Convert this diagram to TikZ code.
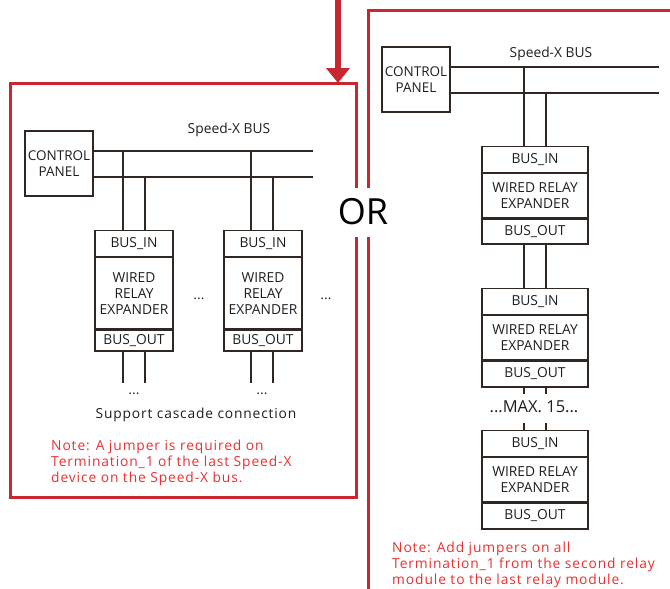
\documentclass[tikz,border=0pt]{standalone}
\usepackage{fontspec}
\setmainfont{Open Sans}
\usetikzlibrary{arrows.meta,positioning}
\definecolor{frred}{RGB}{200,38,48}
\definecolor{notered}{RGB}{232,48,48}
\definecolor{wire}{RGB}{48,38,34}
\definecolor{ink}{RGB}{30,30,30}

\begin{document}
\begin{tikzpicture}[x=1pt, y=-1pt,
  panel/.style={rectangle, draw=wire, line width=1.2pt, minimum width=68pt, minimum height=65pt,
                inner sep=0pt, align=center, text=ink, font=\fontsize{13.5}{16}\selectfont},
  port/.style={rectangle, draw=wire, line width=1.2pt, inner sep=0pt, align=center,
               text=ink, font=\fontsize{13.8}{16}\selectfont},
  lmod/.style={port, minimum width=78pt},
  rmod/.style={port, minimum width=106pt},
  bus/.style={draw=wire, line width=1.2pt},
  frame/.style={draw=frred, line width=3pt},
  lbl/.style={inner sep=0pt, text=ink, font=\fontsize{13.8}{16}\selectfont},
  note/.style={inner sep=0pt, align=left, text=notered,
               font=\fontsize{13.8}{16}\selectfont\addfontfeatures{LetterSpace=6.5}}]
\useasboundingbox (0,0) rectangle (670,589);

% left: star connection
\node[panel] (cp1) at (59,163.5) {CONTROL\\PANEL};
\node[lbl] (bus1) at (229,130) {Speed-X BUS};
\coordinate (t1) at (123,151);
\coordinate (t2) at (145,177);
\coordinate (t3) at (251,151);
\coordinate (t4) at (273,177);
\coordinate (bend1) at (313,151);
\coordinate (bend2) at (313,177);
\draw[bus] (cp1.east |- bend1) -- (bend1);
\draw[bus] (cp1.east |- bend2) -- (bend2);

\node[lmod, minimum height=26pt, anchor=north] (in1) at (134,230) {BUS\_IN};
\node[lmod, minimum height=71pt, below=0pt of in1] (rel1) {WIRED\\RELAY\\EXPANDER};
\node[lmod, minimum height=21pt, below=0pt of rel1] (out1) {BUS\_OUT};
\node[lmod, minimum height=26pt, anchor=north] (in2) at (263,230) {BUS\_IN};
\node[lmod, minimum height=71pt, below=0pt of in2] (rel2) {WIRED\\RELAY\\EXPANDER};
\node[lmod, minimum height=21pt, below=0pt of rel2] (out2) {BUS\_OUT};

\draw[bus] (t1) -- (t1 |- in1.north);
\draw[bus] (t2) -- (t2 |- in1.north);
\draw[bus] (t3) -- (t3 |- in2.north);
\draw[bus] (t4) -- (t4 |- in2.north);
\draw[bus] (t1 |- out1.south) -- ++(0,31);
\draw[bus] (t2 |- out1.south) -- ++(0,31);
\draw[bus] (t3 |- out2.south) -- ++(0,31);
\draw[bus] (t4 |- out2.south) -- ++(0,31);

\node[lbl, anchor=base] (dots1) at (199,299) {...};
\node[lbl, anchor=base] (dots2) at (326,299) {...};
\node[lbl, anchor=base] (dots3) at (134,394) {...};
\node[lbl, anchor=base] (dots4) at (262,394) {...};
\node[lbl, anchor=base, font=\fontsize{13.8}{16}\selectfont\addfontfeatures{LetterSpace=6}]
  (casc) at (196,418) {Support cascade connection};
\node[note, anchor=north west] (note1) at (51,440)
  {Note: A jumper is required on\\Termination\_1 of the last Speed-X\\device on the Speed-X bus.};

\draw[frame] (356,188) -- (356,83) -- (10,83) -- (10,497) -- (356,497) -- (356,237);
\coordinate (arrtop) at (338,0);
\coordinate (arrtip) at (338,83);
\draw[draw=frred, line width=6pt, -{Triangle[width=23pt,length=15pt]}] (arrtop) -- (arrtip);

% middle
\node[inner sep=0pt, text=black, font=\fontsize{36}{40}\selectfont] (or) at (363,212) {OR};

% right: daisy chain
\draw[frame] (368,590) -- (368,237);
\draw[frame] (368,188) -- (368,10) -- (671,10);
\node[panel] (cp2) at (416,79.5) {CONTROL\\PANEL};
\node[lbl] (bus2) at (551,54) {Speed-X BUS};
\coordinate (ta) at (524,67);
\coordinate (tb) at (546,93);
\coordinate (bend3) at (659,67);
\coordinate (bend4) at (659,93);
\draw[bus] (cp2.east |- bend3) -- (bend3);
\draw[bus] (cp2.east |- bend4) -- (bend4);

\node[rmod, minimum height=26pt, anchor=north] (inA) at (535,146) {BUS\_IN};
\node[rmod, minimum height=44pt, below=0pt of inA] (relA) {WIRED RELAY\\EXPANDER};
\node[rmod, minimum height=25pt, below=0pt of relA] (outA) {BUS\_OUT};
\node[rmod, minimum height=26pt, anchor=north] (inB) at (535,288) {BUS\_IN};
\node[rmod, minimum height=44pt, below=0pt of inB] (relB) {WIRED RELAY\\EXPANDER};
\node[rmod, minimum height=26pt, below=0pt of relB] (outB) {BUS\_OUT};
\node[rmod, minimum height=26pt, anchor=north] (inC) at (535,430) {BUS\_IN};
\node[rmod, minimum height=44pt, below=0pt of inC] (relC) {WIRED RELAY\\EXPANDER};
\node[rmod, minimum height=26pt, below=0pt of relC] (outC) {BUS\_OUT};

\draw[bus] (ta) -- (ta |- inA.north);
\draw[bus] (tb) -- (tb |- inA.north);
\draw[bus] (ta |- outA.south) -- (ta |- inB.north);
\draw[bus] (tb |- outA.south) -- (tb |- inB.north);
\draw[bus] (ta |- outB.south) -- ++(0,6);
\draw[bus] (tb |- outB.south) -- ++(0,6);
\draw[bus] (ta |- inC.north) -- ++(0,-7);
\draw[bus] (tb |- inC.north) -- ++(0,-7);
\node[lbl, font=\fontsize{16.5}{18}\selectfont] (max) at (534,407) {...MAX. 15...};
\node[note, anchor=north west] (note2) at (392,542)
  {Note: Add jumpers on all\\Termination\_1 from the second relay\\module to the last relay module.};
\end{tikzpicture}
\end{document}
